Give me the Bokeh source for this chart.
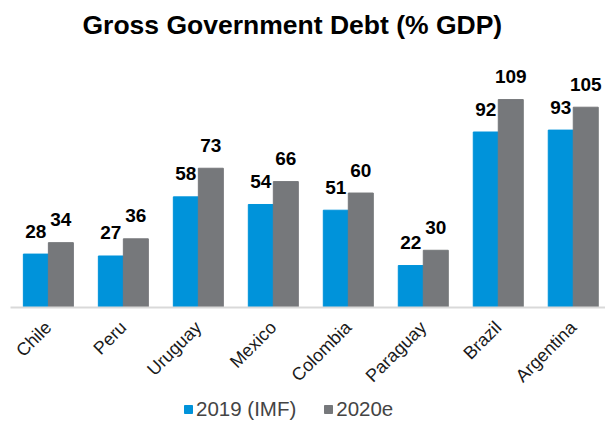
import math
from bokeh.plotting import figure
from bokeh.layouts import column
from bokeh.models import ColumnDataSource, Range1d, FixedTicker, Legend, LegendItem
from bokeh.transform import dodge
from bokeh.core.properties import value
from bokeh.embed import file_html
from bokeh.resources import INLINE

countries = ["Chile", "Peru", "Uruguay", "Mexico", "Colombia", "Paraguay", "Brazil", "Argentina"]
debt_2019 = [28, 27, 58, 54, 51, 22, 92, 93]
debt_2020 = [34, 36, 73, 66, 60, 30, 109, 105]
series_names = ["2019 (IMF)", "2020e"]

BLUE = "#0093DA"
GRAY = "#76787B"
FONT = "Liberation Sans"

pos = [i + 0.5 for i in range(len(countries))]
src = ColumnDataSource(dict(
    x=pos, country=countries,
    a=debt_2019, b=debt_2020,
    la=[str(v) for v in debt_2019], lb=[str(v) for v in debt_2020],
))

p = figure(width=605, height=396, output_backend="svg", toolbar_location=None,
           x_range=Range1d(-0.005, 7.93), y_range=Range1d(0, 136.3),
           min_border_left=10, min_border_right=0, min_border_top=0, min_border_bottom=85)

p.title.text = "Gross Government Debt (% GDP)"
p.title.align = "left"
p.title.offset = 72
p.title.text_font = FONT
p.title.text_font_size = "26.5px"
p.title.text_font_style = "bold"
p.title.text_color = "#000000"
p.title.standoff = 15

bw = 1 / 3
r1 = p.vbar(x=dodge("x", -bw / 2), top="a", width=bw, color=BLUE, source=src)
r2 = p.vbar(x=dodge("x", bw / 2), top="b", width=bw, color=GRAY, source=src)

for col, lab, off in (("a", "la", -bw / 2), ("b", "lb", bw / 2)):
    p.text(x=dodge("x", off), y=col, text=lab, source=src,
           text_font=value(FONT), text_font_style="bold", text_font_size="19px",
           text_align="center", text_baseline="alphabetic", y_offset=-23, text_color="#000000")

p.xgrid.visible = False
p.ygrid.visible = False
p.yaxis.visible = False
p.outline_line_color = None

ax = p.xaxis[0]
ax.ticker = FixedTicker(ticks=pos)
ax.major_label_overrides = {x: c for x, c in zip(pos, countries)}
ax.major_label_orientation = math.pi / 4
ax.major_label_text_font = FONT
ax.major_label_text_font_size = "18px"
ax.major_label_text_color = "#1a1a1a"
ax.major_tick_line_color = None
ax.minor_tick_line_color = None
ax.axis_line_color = "#d9d9d9"
ax.axis_line_width = 2
ax.major_label_standoff = 11

# Legend strip: same series, bars fall outside this strip's y range so only the legend shows.
lf = figure(width=605, height=25, output_backend="svg", toolbar_location=None,
            x_range=Range1d(0, 8), y_range=Range1d(1000, 1001),
            min_border=0, outline_line_color=None)
lf.axis.visible = False
lf.grid.visible = False
l1 = lf.vbar(x="x", top="a", width=bw, color=BLUE, source=src)
l2 = lf.vbar(x="x", top="b", width=bw, color=GRAY, source=src)
legend = Legend(items=[LegendItem(label=series_names[0], renderers=[l1]),
                       LegendItem(label=series_names[1], renderers=[l2])],
                orientation="horizontal", location=(173, 0),
                glyph_width=10, glyph_height=10, label_text_font=FONT,
                label_text_font_size="20.5px", label_standoff=3, spacing=27,
                border_line_color=None, background_fill_alpha=0, padding=0, margin=0)
lf.add_layout(legend)

layout = column(p, lf, spacing=0)
open("out.html", "w").write(file_html(layout, INLINE))
